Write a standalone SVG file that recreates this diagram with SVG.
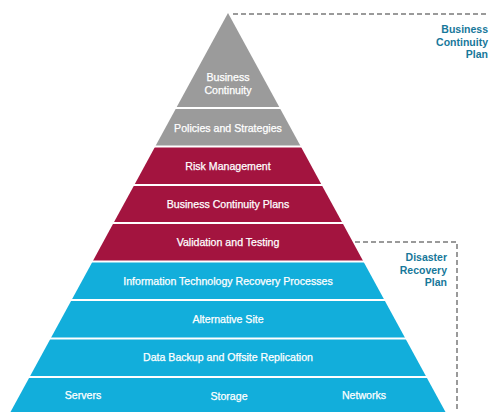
<svg xmlns="http://www.w3.org/2000/svg" width="496" height="412" viewBox="0 0 496 412">
<style>
.g{fill:#9b9b9b}
.r{fill:#a3143f}
.b{fill:#12aedb}
.t{font-family:"Liberation Sans",Arial,sans-serif;font-size:10.6px;fill:#ffffff;stroke:#ffffff;stroke-width:0.25;text-anchor:middle}
.lbl{font-family:"Liberation Sans",Arial,sans-serif;font-size:10.5px;font-weight:bold;fill:#17789a;text-anchor:end}
.sep{stroke:#ffffff;stroke-width:2}
.dash{fill:none;stroke:#9a9a9a;stroke-width:2;stroke-dasharray:5 3}
</style>
<rect width="496" height="412" fill="#ffffff"/>
<g id="connectors">
<path class="dash" d="M233 14 H489"/>
<path class="dash" d="M355 242 H457 V410"/>
</g>
<g id="business-continuity">
<polygon class="g" points="228,13 279.8,108 176.2,108"/>
<text class="t" x="228" y="81">Business</text>
<text class="t" x="228" y="94">Continuity</text>
</g>
<g id="policies">
<polygon class="g" points="176.2,108 279.8,108 300.8,146.5 155.2,146.5"/>
<text class="t" x="228" y="131.5">Policies and Strategies</text>
</g>
<g id="risk">
<polygon class="r" points="155.2,146.5 300.8,146.5 321.7,185 134.3,185"/>
<text class="t" x="228" y="170">Risk Management</text>
</g>
<g id="bcp">
<polygon class="r" points="134.3,185 321.7,185 342.5,223 113.5,223"/>
<text class="t" x="228" y="208">Business Continuity Plans</text>
</g>
<g id="validation">
<polygon class="r" points="113.5,223 342.5,223 363.4,261.5 92.6,261.5"/>
<text class="t" x="228" y="246">Validation and Testing</text>
</g>
<g id="it-recovery">
<polygon class="b" points="92.6,261.5 363.4,261.5 384.4,300 71.6,300"/>
<text class="t" x="228" y="284.5">Information Technology Recovery Processes</text>
</g>
<g id="alt-site">
<polygon class="b" points="71.6,300 384.4,300 405.4,338.5 50.6,338.5"/>
<text class="t" x="228" y="323">Alternative Site</text>
</g>
<g id="backup">
<polygon class="b" points="50.6,338.5 405.4,338.5 426.4,377 29.6,377"/>
<text class="t" x="228" y="361">Data Backup and Offsite Replication</text>
</g>
<g id="infrastructure">
<polygon class="b" points="29.6,377 426.4,377 445.5,412 10.5,412"/>
<text class="t" x="83" y="399">Servers</text>
<text class="t" x="229" y="399.5">Storage</text>
<text class="t" x="364" y="399">Networks</text>
</g>
<g id="separators">
<line class="sep" x1="150" y1="108" x2="300" y2="108"/>
<line class="sep" x1="140" y1="146.5" x2="320" y2="146.5"/>
<line class="sep" x1="120" y1="185" x2="340" y2="185"/>
<line class="sep" x1="100" y1="223" x2="350" y2="223"/>
<line class="sep" x1="80" y1="261.5" x2="370" y2="261.5"/>
<line class="sep" x1="60" y1="300" x2="390" y2="300"/>
<line class="sep" x1="40" y1="338.5" x2="410" y2="338.5"/>
<line class="sep" x1="20" y1="377" x2="432" y2="377"/>
</g>
<g id="label-bcp">
<text class="lbl" x="488" y="33">Business</text>
<text class="lbl" x="488" y="45.5">Continuity</text>
<text class="lbl" x="488" y="58">Plan</text>
</g>
<g id="label-drp">
<text class="lbl" x="447" y="261">Disaster</text>
<text class="lbl" x="447" y="273.5">Recovery</text>
<text class="lbl" x="447" y="286">Plan</text>
</g>
</svg>
